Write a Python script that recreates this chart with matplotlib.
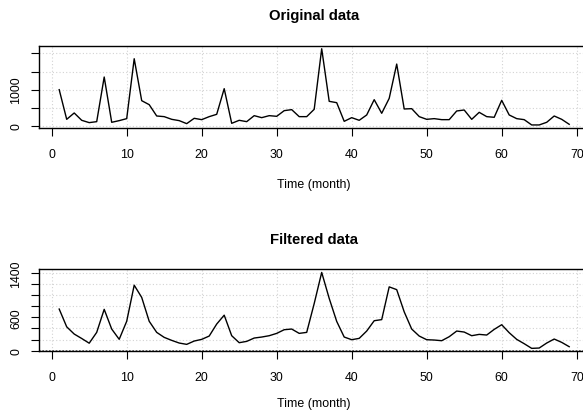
import numpy as np
import matplotlib
matplotlib.use("Agg")
import matplotlib.pyplot as plt

plt.rcParams["font.family"] = ["Liberation Sans", "DejaVu Sans"]

# Monthly series (months 1..69)
months = np.arange(1, 70)

original = [1000, 183, 358, 156, 92, 119, 1349, 101, 147, 202,
            1853, 697, 587, 275, 257, 183, 147, 64, 211, 174,
            257, 321, 1028, 73, 156, 119, 284, 229, 284, 266,
            422, 450, 257, 257, 459, 2128, 679, 642, 128, 229,
            156, 303, 725, 349, 761, 1706, 468, 477, 257, 183,
            202, 174, 174, 413, 440, 183, 376, 257, 239, 706,
            303, 202, 174, 28, 28, 101, 275, 183, 46]

filtered = [750, 430, 300, 220, 135, 330, 745, 390, 205, 530,
            1180, 960, 530, 330, 240, 186, 138, 114, 174, 204,
            264, 480, 640, 270, 144, 168, 228, 246, 270, 312,
            378, 390, 312, 330, 850, 1410, 942, 528, 246, 198,
            222, 354, 540, 560, 1150, 1100, 700, 390, 264, 198,
            192, 180, 252, 354, 336, 270, 294, 282, 384, 468,
            324, 204, 126, 42, 48, 138, 210, 150, 72]

xticks = [0, 10, 20, 30, 40, 50, 60, 70]

W, H = 583, 414
fig = plt.figure(figsize=(W / 100, H / 100), dpi=100)


def rlim(vals):
    # R-style 4% padding of the data range
    lo, hi = min(vals), max(vals)
    r = hi - lo
    return lo - 0.04 * r, hi + 0.04 * r


def panel(rect, y, yticks, ylabels, title):
    ax = fig.add_axes(rect)
    ax.plot(months, y, color="black", lw=1.0)
    ax.set_xlim(rlim([1, 69]))
    ax.set_ylim(rlim(y))
    ax.set_xticks(xticks)
    ax.set_xticklabels([str(t) for t in xticks])
    ax.set_yticks(yticks)
    ax.set_yticklabels(ylabels, rotation=90, va="center")
    for v in xticks:
        ax.axvline(v, color="#d3d3d3", ls=(0, (1, 2)), lw=0.8, zorder=0)
    for v in yticks:
        ax.axhline(v, color="#d3d3d3", ls=(0, (1, 2)), lw=0.8, zorder=0)
    ax.tick_params(direction="out", length=5.8, width=0.8, labelsize=8.9, colors="black")
    ax.tick_params(axis="x", pad=8.5)
    ax.tick_params(axis="y", pad=6)
    for s in ax.spines.values():
        s.set_linewidth(1.0)
    ax.set_title(title, fontsize=10.7, fontweight="bold", pad=19)
    return ax


left = 38.8 / W
width = (589.6 - 38.8) / W

top_vals = [0, 500, 1000, 1500, 2000]
top_labels = ["0", "", "1000", "", ""]
panel([left, 1 - 129 / H, width, 82.3 / H], original, top_vals, top_labels, "Original data")

bot_vals = [0, 200, 400, 600, 800, 1000, 1200, 1400]
bot_labels = ["0", "", "", "600", "", "", "", "1400"]
ax2 = panel([left, 1 - 352.4 / H, width, 82 / H], filtered, bot_vals, bot_labels, "Filtered data")
ax2.axhline(0, color="#555555", ls=(0, (1, 1)), lw=1.2, zorder=1)

cx = (38.8 + 589.6) / 2 / W
fig.text(cx, 1 - 185 / H, "Time (month)", ha="center", va="center", fontsize=8.9)
fig.text(cx, 1 - 404 / H, "Time (month)", ha="center", va="center", fontsize=8.9)

fig.savefig("out.png", dpi=100)
